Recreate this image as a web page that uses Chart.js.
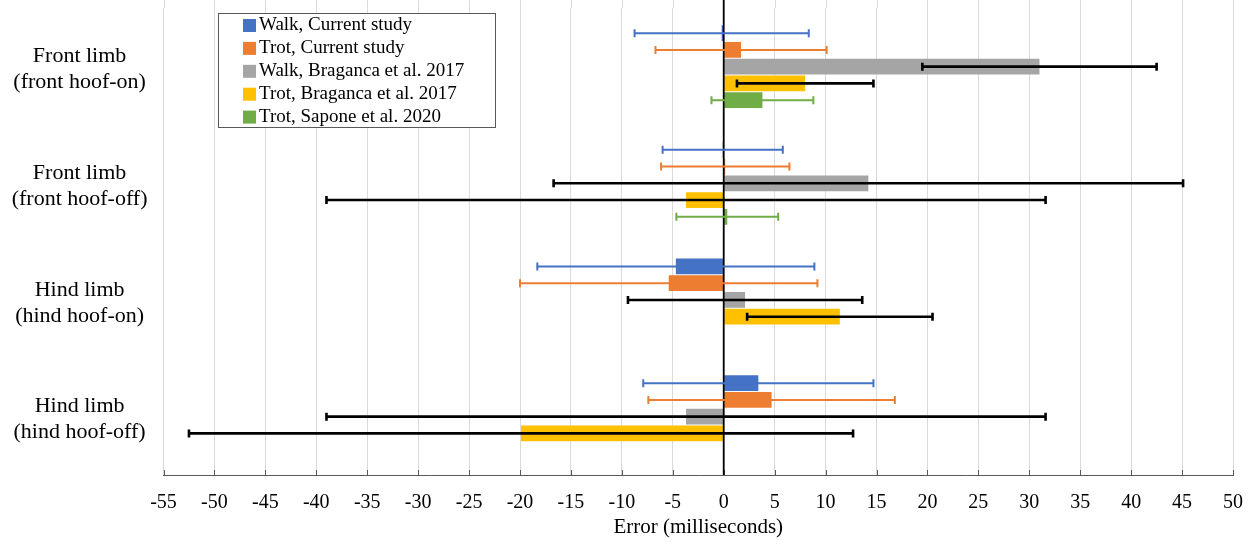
<!DOCTYPE html>
<html>
<head>
<meta charset="utf-8">
<script src="https://cdn.jsdelivr.net/npm/chart.js@4.4.1/dist/chart.umd.min.js"></script>
<style>
  html, body { margin: 0; padding: 0; background: #fff; }
  #chart { display: block; }
</style>
</head>
<body>
<canvas id="chart" width="1251" height="541"></canvas>
<script>
// categories (top to bottom)
const categories = [
    ["Front limb", "(front hoof-on)"],
    ["Front limb", "(front hoof-off)"],
    ["Hind limb", "(hind hoof-on)"],
    ["Hind limb", "(hind hoof-off)"]
];

const seriesNames = [
    "Walk, Current study",
    "Trot, Current study",
    "Walk, Braganca et al. 2017",
    "Trot, Braganca et al. 2017",
    "Trot, Sapone et al. 2020"
];

// mean error (ms) per series
const walkCurrent = [-0.2, -0.1, -4.7, 3.4];
const trotCurrent = [1.7, 0.15, -5.4, 4.7];
const walkBraganca = [31.0, 14.2, 2.1, -3.7];
const trotBraganca = [8.0, -3.7, 11.4, -19.9];
const trotSapone = [3.8, 0.35, null, null];

// +/- error bar half widths (ms)
const walkCurrentErr = [8.55, 5.9, 13.6, 11.3];
const trotCurrentErr = [8.4, 6.3, 14.6, 12.1];
const walkBragancaErr = [11.5, 30.9, 11.5, 35.3];
const trotBragancaErr = [6.7, 35.3, 9.1, 32.6];
const trotSaponeErr = [5.0, 5.0, null, null];

const xTicks = { min: -55, max: 50, step: 5 };

const SERIF = "'Liberation Serif', 'Times New Roman', serif";

function makeSet(i, data, err, color, errColor, errWidth) {
    return {
        label: seriesNames[i],
        data: data,
        err: err,
        backgroundColor: color,
        errColor: errColor,
        errWidth: errWidth,
        barPercentage: 0.94,
        categoryPercentage: 0.718
    };
}

// gridline stubs above the plot, zero axis, inside ticks, error bars and legend box
const extras = {
    id: 'extras',
    beforeDatasetsDraw(chart) {
        const { ctx, chartArea } = chart;
        const x = chart.scales.x;
        ctx.save();
        ctx.strokeStyle = '#d9d9d9';
        ctx.lineWidth = 1;
        x.ticks.forEach(t => {
            if (t.value === 0) return;
            const px = Math.round(x.getPixelForValue(t.value)) + 0.5;
            ctx.beginPath();
            ctx.moveTo(px, 0);
            ctx.lineTo(px, chartArea.top);
            ctx.stroke();
        });
        ctx.restore();
    },
    afterDatasetsDraw(chart) {
        const { ctx, chartArea } = chart;
        const x = chart.scales.x;
        ctx.save();

        // inside tick marks on the x axis
        ctx.strokeStyle = '#595959';
        ctx.lineWidth = 1;
        x.ticks.forEach(t => {
            const px = Math.round(x.getPixelForValue(t.value)) + 0.5;
            ctx.beginPath();
            ctx.moveTo(px, chartArea.bottom - 5);
            ctx.lineTo(px, chartArea.bottom);
            ctx.stroke();
        });

        // zero line
        const zx = x.getPixelForValue(0);
        ctx.strokeStyle = '#000';
        ctx.lineWidth = 1.8;
        ctx.beginPath();
        ctx.moveTo(zx, 0);
        ctx.lineTo(zx, chartArea.bottom);
        ctx.stroke();

        // error bars
        chart.data.datasets.forEach((ds, di) => {
            const meta = chart.getDatasetMeta(di);
            meta.data.forEach((bar, i) => {
                const v = ds.data[i];
                const e = ds.err[i];
                if (v === null || e === null) return;
                const y = bar.y;
                const x1 = x.getPixelForValue(v - e);
                const x2 = x.getPixelForValue(v + e);
                ctx.strokeStyle = ds.errColor;
                ctx.lineWidth = ds.errWidth;
                ctx.beginPath();
                ctx.moveTo(x1, y);
                ctx.lineTo(x2, y);
                ctx.moveTo(x1, y - 4);
                ctx.lineTo(x1, y + 4);
                ctx.moveTo(x2, y - 4);
                ctx.lineTo(x2, y + 4);
                ctx.stroke();
            });
        });

        // legend box
        ctx.fillStyle = '#fff';
        ctx.fillRect(218.5, 13.5, 277, 114);
        ctx.strokeStyle = '#595959';
        ctx.lineWidth = 1;
        ctx.strokeRect(218.5, 13.5, 277, 114);
        ctx.font = "19px " + SERIF;
        ctx.textBaseline = 'middle';
        ctx.textAlign = 'left';
        chart.data.datasets.forEach((ds, di) => {
            const ry = 25.5 + di * 22.9;
            ctx.fillStyle = ds.backgroundColor;
            ctx.fillRect(243, ry - 6.5, 13, 13);
            ctx.fillStyle = '#000';
            ctx.fillText(ds.label, 259, ry);
        });

        ctx.restore();
    }
};

new Chart(document.getElementById('chart'), {
    type: 'bar',
    data: {
        labels: categories,
        datasets: [
            makeSet(0, walkCurrent, walkCurrentErr, '#4472C4', '#4472C4', 2),
            makeSet(1, trotCurrent, trotCurrentErr, '#ED7D31', '#ED7D31', 2),
            makeSet(2, walkBraganca, walkBragancaErr, '#A5A5A5', '#000000', 2.6),
            makeSet(3, trotBraganca, trotBragancaErr, '#FFC000', '#000000', 2.6),
            makeSet(4, trotSapone, trotSaponeErr, '#70AD47', '#70AD47', 2)
        ]
    },
    options: {
        indexAxis: 'y',
        responsive: false,
        animation: false,
        layout: { padding: { top: 8.3, right: 18, left: 0, bottom: 0 } },
        plugins: {
            legend: { display: false },
            tooltip: { enabled: false }
        },
        scales: {
            x: {
                min: xTicks.min,
                max: xTicks.max,
                ticks: {
                    stepSize: xTicks.step,
                    autoSkip: false,
                    maxRotation: 0,
                    padding: 16,
                    color: '#000',
                    font: { family: SERIF, size: 20 }
                },
                grid: {
                    drawTicks: false,
                    color: c => (c.tick && c.tick.value === 0) ? 'rgba(0,0,0,0)' : '#d9d9d9'
                },
                border: { color: '#595959' },
                title: {
                    display: true,
                    text: 'Error (milliseconds)',
                    color: '#000',
                    font: { family: SERIF, size: 21 },
                    padding: { top: 0, bottom: 0.5 }
                },
                afterFit: s => {
                    s.height = 66;
                    s.paddingLeft = 0;
                    s.paddingRight = 0;
                }
            },
            y: {
                grid: { display: false },
                border: { display: false },
                ticks: {
                    crossAlign: 'center',
                    padding: 8,
                    labelOffset: 3,
                    color: '#000',
                    font: { family: SERIF, size: 22, lineHeight: 1.18 }
                },
                afterFit: s => {
                    s.width = 163.5;
                    s.paddingTop = 0;
                    s.paddingBottom = 0;
                }
            }
        }
    },
    plugins: [extras]
});
</script>
</body>
</html>
